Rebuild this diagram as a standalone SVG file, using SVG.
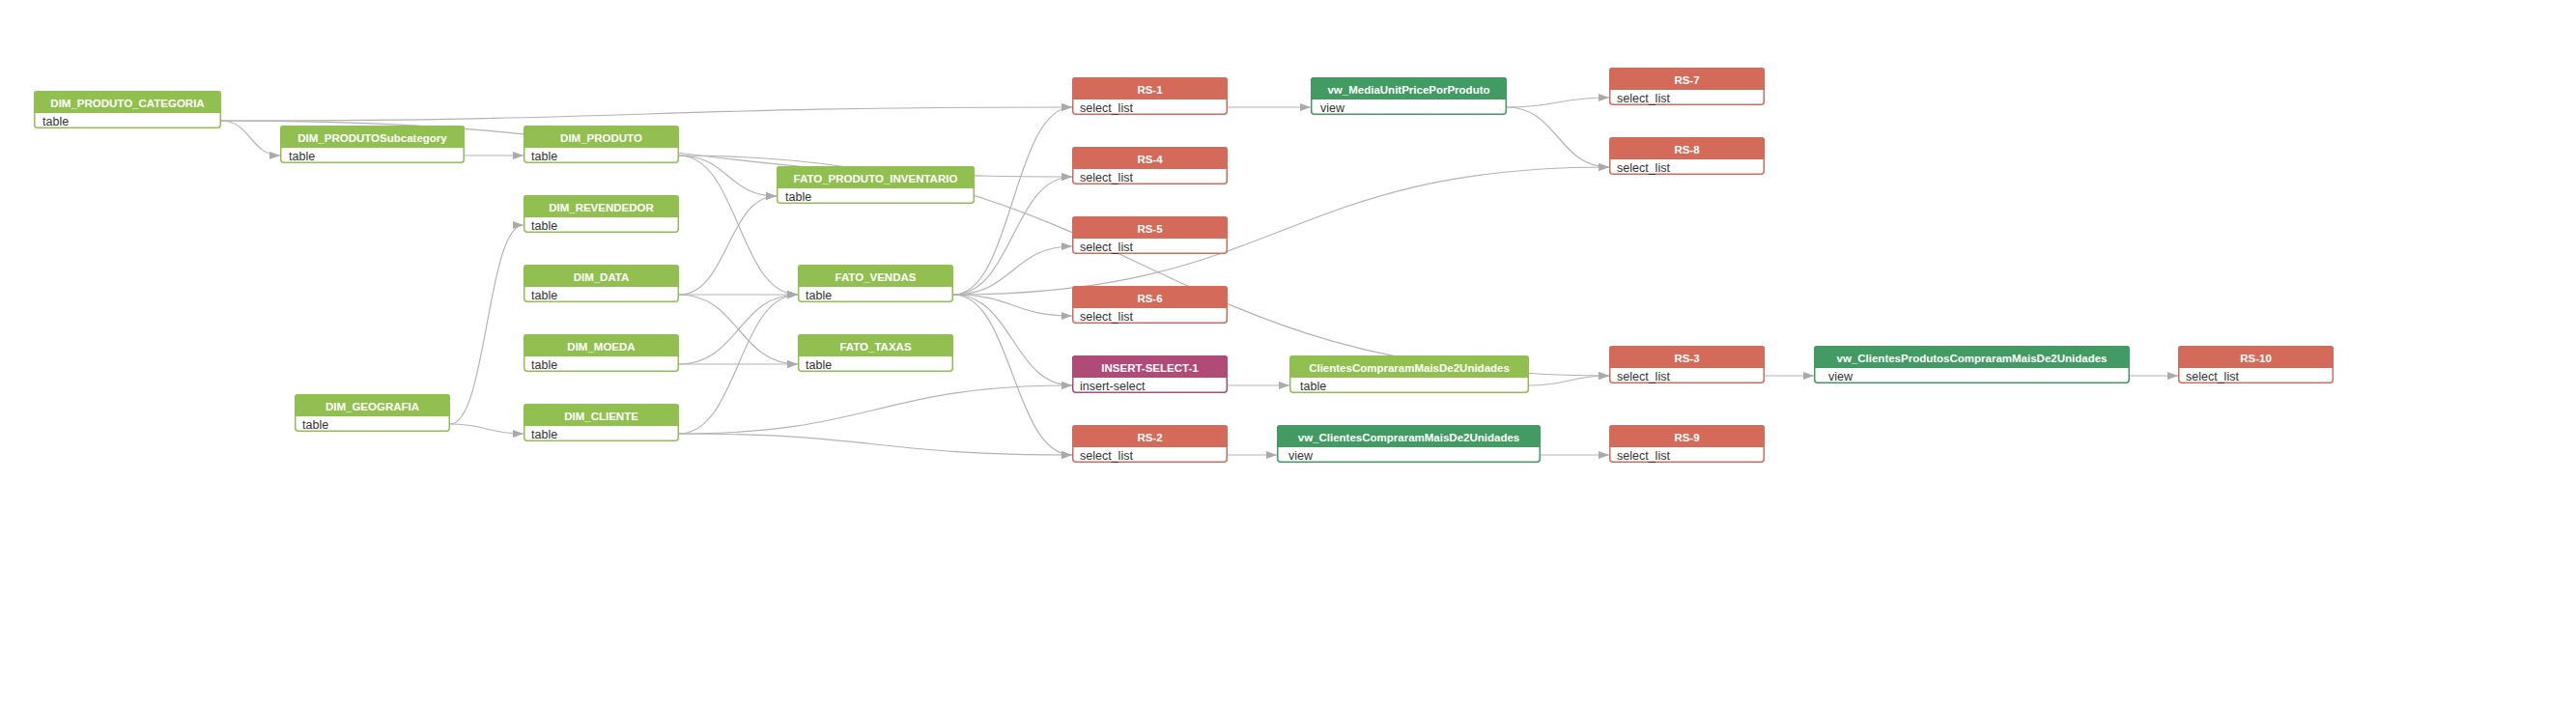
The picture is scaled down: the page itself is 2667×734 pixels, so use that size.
<svg xmlns="http://www.w3.org/2000/svg" width="2667" height="734" viewBox="0 0 2667 734">
<style>
.bg{fill:#ffffff}
.box{fill:#ffffff;stroke-width:1.5}
.t .box{stroke:#92c050}.t .hd{fill:#92c050}
.v .box{stroke:#429b62}.v .hd{fill:#429b62}
.r .box{stroke:#d46b5a}.r .hd{fill:#d46b5a}
.p .box{stroke:#b04a76}.p .hd{fill:#b04a76}
.ht{font-family:"Liberation Sans",Arial,sans-serif;font-size:11.5px;font-weight:bold;fill:#ffffff;text-anchor:middle}
.bt{font-family:"Liberation Sans",Arial,sans-serif;font-size:12.5px;fill:#333333}
.e path{fill:none;stroke:#b3b3b3;stroke-width:1.2;marker-end:url(#arr)}
</style>
<defs>
<marker id="arr" markerUnits="userSpaceOnUse" markerWidth="11" markerHeight="8" refX="11" refY="4" orient="auto">
<path d="M0,0 L11,4 L0,8 Z" fill="#aaaaaa"/>
</marker>
</defs>
<rect class="bg" x="0" y="0" width="2667" height="734"/>
<g id="connectors" class="e">
<path d="M229,125 C259.5,125 259.5,161 290,161"/>
<path d="M229,125 C669.5,125 669.5,111 1110,111"/>
<path d="M229,125 C669.5,125 669.5,183 1110,183"/>
<path d="M481,161 C511.5,161 511.5,161 542,161"/>
<path d="M703,161 C753.5,161 753.5,203 804,203"/>
<path d="M703,161 C764.5,161 764.5,305 826,305"/>
<path d="M703,161 C1184.5,161 1184.5,389 1666,389"/>
<path d="M703,305 C753.5,305 753.5,203 804,203"/>
<path d="M703,305 C764.5,305 764.5,305 826,305"/>
<path d="M703,305 C764.5,305 764.5,377 826,377"/>
<path d="M703,377 C764.5,377 764.5,305 826,305"/>
<path d="M703,377 C764.5,377 764.5,377 826,377"/>
<path d="M703,449 C764.5,449 764.5,305 826,305"/>
<path d="M703,449 C906.5,449 906.5,399 1110,399"/>
<path d="M703,449 C906.5,449 906.5,471 1110,471"/>
<path d="M466,439 C504,439 504,233 542,233"/>
<path d="M466,439 C504,439 504,449 542,449"/>
<path d="M987,305 C1048.5,305 1048.5,111 1110,111"/>
<path d="M987,305 C1048.5,305 1048.5,183 1110,183"/>
<path d="M987,305 C1048.5,305 1048.5,255 1110,255"/>
<path d="M987,305 C1048.5,305 1048.5,327 1110,327"/>
<path d="M987,305 C1048.5,305 1048.5,399 1110,399"/>
<path d="M987,305 C1048.5,305 1048.5,471 1110,471"/>
<path d="M987,305 C1326.5,305 1326.5,173 1666,173"/>
<path d="M1271,111 C1314,111 1314,111 1357,111"/>
<path d="M1560,111 C1613,111 1613,101 1666,101"/>
<path d="M1560,111 C1613,111 1613,173 1666,173"/>
<path d="M1271,399 C1303,399 1303,399 1335,399"/>
<path d="M1583,399 C1624.5,399 1624.5,389 1666,389"/>
<path d="M1827,389 C1852.5,389 1852.5,389 1878,389"/>
<path d="M2205,389 C2230,389 2230,389 2255,389"/>
<path d="M1271,471 C1296.5,471 1296.5,471 1322,471"/>
<path d="M1595,471 C1630.5,471 1630.5,471 1666,471"/>
</g>
<g id="DIM_PRODUTO_CATEGORIA" class="t"><rect class="box" x="35.75" y="94.75" width="192.5" height="37.5" rx="3"/><path class="hd" d="M35,117 V97 Q35,94 38,94 H226 Q229,94 229,97 V117 Z"/><text class="ht" x="132" y="110.7">DIM_PRODUTO_CATEGORIA</text><text class="bt" x="44" y="129.5">table</text></g>
<g id="DIM_PRODUTOSubcategory" class="t"><rect class="box" x="290.75" y="130.75" width="189.5" height="37.5" rx="3"/><path class="hd" d="M290,153 V133 Q290,130 293,130 H478 Q481,130 481,133 V153 Z"/><text class="ht" x="385.5" y="146.7">DIM_PRODUTOSubcategory</text><text class="bt" x="299" y="165.5">table</text></g>
<g id="DIM_PRODUTO" class="t"><rect class="box" x="542.75" y="130.75" width="159.5" height="37.5" rx="3"/><path class="hd" d="M542,153 V133 Q542,130 545,130 H700 Q703,130 703,133 V153 Z"/><text class="ht" x="622.5" y="146.7">DIM_PRODUTO</text><text class="bt" x="550" y="165.5">table</text></g>
<g id="DIM_REVENDEDOR" class="t"><rect class="box" x="542.75" y="202.75" width="159.5" height="37.5" rx="3"/><path class="hd" d="M542,225 V205 Q542,202 545,202 H700 Q703,202 703,205 V225 Z"/><text class="ht" x="622.5" y="218.7">DIM_REVENDEDOR</text><text class="bt" x="550" y="237.5">table</text></g>
<g id="DIM_DATA" class="t"><rect class="box" x="542.75" y="274.75" width="159.5" height="37.5" rx="3"/><path class="hd" d="M542,297 V277 Q542,274 545,274 H700 Q703,274 703,277 V297 Z"/><text class="ht" x="622.5" y="290.7">DIM_DATA</text><text class="bt" x="550" y="309.5">table</text></g>
<g id="DIM_MOEDA" class="t"><rect class="box" x="542.75" y="346.75" width="159.5" height="37.5" rx="3"/><path class="hd" d="M542,369 V349 Q542,346 545,346 H700 Q703,346 703,349 V369 Z"/><text class="ht" x="622.5" y="362.7">DIM_MOEDA</text><text class="bt" x="550" y="381.5">table</text></g>
<g id="DIM_CLIENTE" class="t"><rect class="box" x="542.75" y="418.75" width="159.5" height="37.5" rx="3"/><path class="hd" d="M542,441 V421 Q542,418 545,418 H700 Q703,418 703,421 V441 Z"/><text class="ht" x="622.5" y="434.7">DIM_CLIENTE</text><text class="bt" x="550" y="453.5">table</text></g>
<g id="DIM_GEOGRAFIA" class="t"><rect class="box" x="305.75" y="408.75" width="159.5" height="37.5" rx="3"/><path class="hd" d="M305,431 V411 Q305,408 308,408 H463 Q466,408 466,411 V431 Z"/><text class="ht" x="385.5" y="424.7">DIM_GEOGRAFIA</text><text class="bt" x="313" y="443.5">table</text></g>
<g id="FATO_PRODUTO_INVENTARIO" class="t"><rect class="box" x="804.75" y="172.75" width="203.5" height="37.5" rx="3"/><path class="hd" d="M804,195 V175 Q804,172 807,172 H1006 Q1009,172 1009,175 V195 Z"/><text class="ht" x="906.5" y="188.7">FATO_PRODUTO_INVENTARIO</text><text class="bt" x="813" y="207.5">table</text></g>
<g id="FATO_VENDAS" class="t"><rect class="box" x="826.75" y="274.75" width="159.5" height="37.5" rx="3"/><path class="hd" d="M826,297 V277 Q826,274 829,274 H984 Q987,274 987,277 V297 Z"/><text class="ht" x="906.5" y="290.7">FATO_VENDAS</text><text class="bt" x="834" y="309.5">table</text></g>
<g id="FATO_TAXAS" class="t"><rect class="box" x="826.75" y="346.75" width="159.5" height="37.5" rx="3"/><path class="hd" d="M826,369 V349 Q826,346 829,346 H984 Q987,346 987,349 V369 Z"/><text class="ht" x="906.5" y="362.7">FATO_TAXAS</text><text class="bt" x="834" y="381.5">table</text></g>
<g id="RS-1" class="r"><rect class="box" x="1110.75" y="80.75" width="159.5" height="37.5" rx="3"/><path class="hd" d="M1110,103 V83 Q1110,80 1113,80 H1268 Q1271,80 1271,83 V103 Z"/><text class="ht" x="1190.5" y="96.7">RS-1</text><text class="bt" x="1118" y="115.5">select_list</text></g>
<g id="RS-4" class="r"><rect class="box" x="1110.75" y="152.75" width="159.5" height="37.5" rx="3"/><path class="hd" d="M1110,175 V155 Q1110,152 1113,152 H1268 Q1271,152 1271,155 V175 Z"/><text class="ht" x="1190.5" y="168.7">RS-4</text><text class="bt" x="1118" y="187.5">select_list</text></g>
<g id="RS-5" class="r"><rect class="box" x="1110.75" y="224.75" width="159.5" height="37.5" rx="3"/><path class="hd" d="M1110,247 V227 Q1110,224 1113,224 H1268 Q1271,224 1271,227 V247 Z"/><text class="ht" x="1190.5" y="240.7">RS-5</text><text class="bt" x="1118" y="259.5">select_list</text></g>
<g id="RS-6" class="r"><rect class="box" x="1110.75" y="296.75" width="159.5" height="37.5" rx="3"/><path class="hd" d="M1110,319 V299 Q1110,296 1113,296 H1268 Q1271,296 1271,299 V319 Z"/><text class="ht" x="1190.5" y="312.7">RS-6</text><text class="bt" x="1118" y="331.5">select_list</text></g>
<g id="INSERT-SELECT-1" class="p"><rect class="box" x="1110.75" y="368.75" width="159.5" height="37.5" rx="3"/><path class="hd" d="M1110,391 V371 Q1110,368 1113,368 H1268 Q1271,368 1271,371 V391 Z"/><text class="ht" x="1190.5" y="384.7">INSERT-SELECT-1</text><text class="bt" x="1118" y="403.5">insert-select</text></g>
<g id="RS-2" class="r"><rect class="box" x="1110.75" y="440.75" width="159.5" height="37.5" rx="3"/><path class="hd" d="M1110,463 V443 Q1110,440 1113,440 H1268 Q1271,440 1271,443 V463 Z"/><text class="ht" x="1190.5" y="456.7">RS-2</text><text class="bt" x="1118" y="475.5">select_list</text></g>
<g id="vw_MediaUnitPricePorProduto" class="v"><rect class="box" x="1357.75" y="80.75" width="201.5" height="37.5" rx="3"/><path class="hd" d="M1357,103 V83 Q1357,80 1360,80 H1557 Q1560,80 1560,83 V103 Z"/><text class="ht" x="1458.5" y="96.7">vw_MediaUnitPricePorProduto</text><text class="bt" x="1367" y="115.5">view</text></g>
<g id="ClientesCompraramMaisDe2Unidades" class="t"><rect class="box" x="1335.75" y="368.75" width="246.5" height="37.5" rx="3"/><path class="hd" d="M1335,391 V371 Q1335,368 1338,368 H1580 Q1583,368 1583,371 V391 Z"/><text class="ht" x="1459" y="384.7">ClientesCompraramMaisDe2Unidades</text><text class="bt" x="1346" y="403.5">table</text></g>
<g id="vw_ClientesCompraramMaisDe2Unidades" class="v"><rect class="box" x="1322.75" y="440.75" width="271.5" height="37.5" rx="3"/><path class="hd" d="M1322,463 V443 Q1322,440 1325,440 H1592 Q1595,440 1595,443 V463 Z"/><text class="ht" x="1458.5" y="456.7">vw_ClientesCompraramMaisDe2Unidades</text><text class="bt" x="1334" y="475.5">view</text></g>
<g id="RS-7" class="r"><rect class="box" x="1666.75" y="70.75" width="159.5" height="37.5" rx="3"/><path class="hd" d="M1666,93 V73 Q1666,70 1669,70 H1824 Q1827,70 1827,73 V93 Z"/><text class="ht" x="1746.5" y="86.7">RS-7</text><text class="bt" x="1674" y="105.5">select_list</text></g>
<g id="RS-8" class="r"><rect class="box" x="1666.75" y="142.75" width="159.5" height="37.5" rx="3"/><path class="hd" d="M1666,165 V145 Q1666,142 1669,142 H1824 Q1827,142 1827,145 V165 Z"/><text class="ht" x="1746.5" y="158.7">RS-8</text><text class="bt" x="1674" y="177.5">select_list</text></g>
<g id="RS-3" class="r"><rect class="box" x="1666.75" y="358.75" width="159.5" height="37.5" rx="3"/><path class="hd" d="M1666,381 V361 Q1666,358 1669,358 H1824 Q1827,358 1827,361 V381 Z"/><text class="ht" x="1746.5" y="374.7">RS-3</text><text class="bt" x="1674" y="393.5">select_list</text></g>
<g id="RS-9" class="r"><rect class="box" x="1666.75" y="440.75" width="159.5" height="37.5" rx="3"/><path class="hd" d="M1666,463 V443 Q1666,440 1669,440 H1824 Q1827,440 1827,443 V463 Z"/><text class="ht" x="1746.5" y="456.7">RS-9</text><text class="bt" x="1674" y="475.5">select_list</text></g>
<g id="vw_ClientesProdutosCompraramMaisDe2Unidades" class="v"><rect class="box" x="1878.75" y="358.75" width="325.5" height="37.5" rx="3"/><path class="hd" d="M1878,381 V361 Q1878,358 1881,358 H2202 Q2205,358 2205,361 V381 Z"/><text class="ht" x="2041.5" y="374.7">vw_ClientesProdutosCompraramMaisDe2Unidades</text><text class="bt" x="1893" y="393.5">view</text></g>
<g id="RS-10" class="r"><rect class="box" x="2255.75" y="358.75" width="159.5" height="37.5" rx="3"/><path class="hd" d="M2255,381 V361 Q2255,358 2258,358 H2413 Q2416,358 2416,361 V381 Z"/><text class="ht" x="2335.5" y="374.7">RS-10</text><text class="bt" x="2263" y="393.5">select_list</text></g>
</svg>
